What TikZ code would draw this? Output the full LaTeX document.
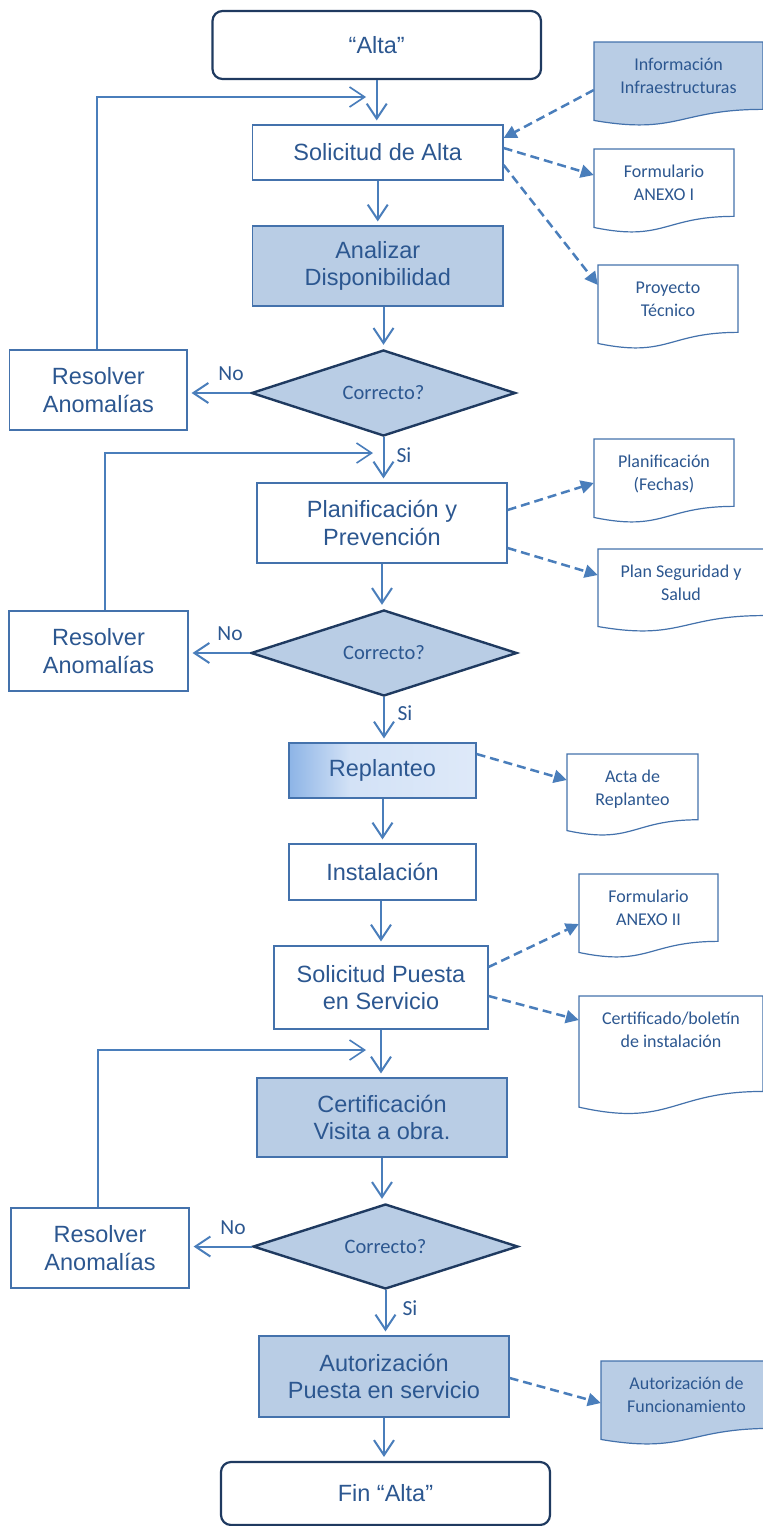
\documentclass[tikz,border=0pt]{standalone}
\usepackage{fontspec}
\setmainfont{Liberation Sans}
\newfontfamily\calib{Carlito}
\usetikzlibrary{arrows.meta,shapes.geometric}
\definecolor{txt}{HTML}{2C5790}
\definecolor{lnc}{HTML}{4A7EBB}
\definecolor{brd}{HTML}{4472AC}
\definecolor{fl}{HTML}{B9CDE5}
\definecolor{navy}{HTML}{1F3A60}
\definecolor{gA}{HTML}{8DB4E6}
\definecolor{gB}{HTML}{D3E2F6}
\definecolor{gC}{HTML}{DEE9F9}
\newcommand{\docshape}[7]{%
  \path[draw=brd, line width=1.2pt, fill=#6] (#2,#3) -- (#4,#3) -- (#4,{#3+0.802*#5})
    .. controls ({(#2+#4)/2},{#3+0.802*#5}) and ({(#2+#4)/2},{#3+1.107*#5}) .. (#2,{#3+0.934*#5}) -- cycle;
  \node[inner sep=0pt, minimum width={#4-#2}, minimum height={0.802*#5}] (#1) at ({(#2+#4)/2},{#3+0.401*#5}) {};
  \node[doctext, anchor=north] (#1-t) at ({(#2+#4)/2},{#3+14.5}) {\rule{0pt}{14pt}#7};
}
\begin{document}
\begin{tikzpicture}[x=1pt,y=-1pt,
  box/.style={draw=brd, line width=1.2pt, text=txt, align=center, inner sep=0pt,
    font=\fontsize{23.5}{27.5}\selectfont},
  filled/.style={box, fill=fl},
  term/.style={box, draw=navy, line width=2.2pt, rounded corners=10pt},
  dec/.style={diamond, aspect=3, draw=navy, line width=2.4pt, fill=fl, inner sep=0pt,
    text=txt, font=\calib\fontsize{20.5}{24}\selectfont},
  flow/.style={draw=lnc, line width=2pt, shorten >=4pt, -{Straight Barb[length=15pt,width=20pt]}},
  loopline/.style={draw=lnc, line width=1.6pt, -{Straight Barb[length=15pt,width=20pt]}},
  dasharr/.style={draw=lnc, line width=2.5pt, dash pattern=on 9pt off 5pt,
    -{Triangle[length=13pt,width=13pt]}},
  lbl/.style={text=txt, font=\calib\fontsize{21.5}{24}\selectfont, inner sep=0pt},
  doctext/.style={text=txt, align=center, inner sep=0pt, font=\calib\fontsize{18}{22.5}\selectfont}
]
\useasboundingbox (0,0) rectangle (763,1526);

% Replanteo gradient background
\shade[left color=gA, right color=gB] (289,743) rectangle (350,798);
\shade[left color=gB, right color=gC] (350,743) rectangle (476,798);

% main nodes
\node[term, minimum width=328.5, minimum height=68] (alta) at (376.75,45) {“Alta”};
\node[box, minimum width=250.5, minimum height=55] (sol) at (377.75,152.5) {Solicitud de Alta};
\node[filled, minimum width=250.5, minimum height=80] (anal) at (377.75,266) {Analizar\\Disponibilidad};
\node[dec, minimum width=264, minimum height=86] (d1) at (383.5,393) {Correcto?};
\node[box, minimum width=177.3, minimum height=80] (res1) at (98.35,390) {Resolver\\Anomalías};
\node[box, minimum width=250, minimum height=80] (plan) at (382,523) {Planificación y\\Prevención};
\node[dec, minimum width=266, minimum height=86] (d2) at (384,653) {Correcto?};
\node[box, minimum width=179, minimum height=80] (res2) at (98.5,651) {Resolver\\Anomalías};
\node[box, minimum width=187, minimum height=55] (rep) at (382.5,770.5) {Replanteo};
\node[box, minimum width=187, minimum height=56] (inst) at (382.5,872) {Instalación};
\node[box, minimum width=214, minimum height=83] (solp) at (381,987.5) {Solicitud Puesta\\en Servicio};
\node[filled, minimum width=250, minimum height=79] (cert) at (382,1117.5) {Certificación\\Visita a obra.};
\node[dec, minimum width=265, minimum height=85] (d3) at (385.5,1246.5) {Correcto?};
\node[box, minimum width=178, minimum height=80] (res3) at (100,1248) {Resolver\\Anomalías};
\node[filled, minimum width=250, minimum height=81] (aut) at (384,1376.5) {Autorización\\Puesta en servicio};
\node[term, minimum width=329, minimum height=63] (fin) at (385.5,1493.5) {Fin “Alta”};

% documents
\docshape{info}{594}{42}{763}{84}{fl}{Información\\Infraestructuras}
\docshape{form1}{594}{149}{734}{84}{white}{Formulario\\ANEXO I}
\docshape{proy}{598}{265}{738}{84}{white}{Proyecto\\Técnico}
\docshape{planf}{594}{439}{734}{84}{white}{Planificación\\(Fechas)}
\docshape{plans}{598}{549}{764}{83}{white}{Plan Seguridad y\\Salud}
\docshape{acta}{567}{754}{698}{82}{white}{Acta de\\Replanteo}
\docshape{anex2}{579}{874}{718}{84}{white}{Formulario\\ANEXO II}
\docshape{certd}{579}{996}{763}{119}{white}{Certificado/boletín\\de instalación}
\docshape{autf}{601}{1361}{772}{84}{fl}{Autorización de\\Funcionamiento}

% main flow
\draw[flow] (alta.south) -- (alta.south |- sol.north);
\draw[flow] (sol.south) -- (sol.south |- anal.north);
\draw[flow] (d1.north |- anal.south) -- (d1.north);
\draw[flow] (d1.south) -- (d1.south |- plan.north);
\draw[flow] (plan.south) -- (plan.south |- d2.north);
\draw[flow] (d2.south) -- (d2.south |- rep.north);
\draw[flow] (rep.south) -- (rep.south |- inst.north);
\draw[flow] (solp.north |- inst.south) -- (solp.north);
\draw[flow] (solp.south) -- (solp.south |- cert.north);
\draw[flow] (cert.south) -- (cert.south |- d3.north);
\draw[flow] (d3.south) -- (d3.south |- aut.north);
\draw[flow] (aut.south) -- (aut.south |- fin.north);

% No branches
\draw[flow] (d1.west) -- (d1.west -| res1.east);
\draw[flow] (d2.west) -- (d2.west -| res2.east);
\draw[flow] (d3.west) -- (d3.west -| res3.east);

% loops back
\coordinate (j1) at (366,97);
\coordinate (j2) at (373,453);
\coordinate (j3) at (366,1050);
\draw[loopline] ([xshift=-1.35pt]res1.north) |- (j1);
\draw[loopline] ([xshift=6.5pt]res2.north) |- (j2);
\draw[loopline] ([xshift=-2pt]res3.north) |- (j3);

% labels
\node[lbl] (no1) at (231,374) {No};
\node[lbl] (no2) at (230,634) {No};
\node[lbl] (no3) at (233,1228) {No};
\node[lbl] (si1) at (404,455) {Si};
\node[lbl] (si2) at (405,713) {Si};
\node[lbl] (si3) at (410,1308) {Si};

% dashed document arrows
\draw[dasharr] (info.west |- 0,90) -- (sol.east |- 0,138);
\draw[dasharr] (sol.east |- 0,148) -- (form1.west |- 0,175);
\draw[dasharr] (sol.east |- 0,165) -- (proy.west |- 0,285);
\draw[dasharr] (plan.east |- 0,510) -- (planf.west |- 0,483);
\draw[dasharr] (plan.east |- 0,548) -- (plans.west |- 0,575);
\draw[dasharr] (rep.east |- 0,754) -- (acta.west |- 0,780);
\draw[dasharr] (solp.east |- 0,967) -- (anex2.west |- 0,924);
\draw[dasharr] (solp.east |- 0,996) -- (certd.west |- 0,1020);
\draw[dasharr] (aut.east |- 0,1378) -- (autf.west |- 0,1403);
\end{tikzpicture}
\end{document}
